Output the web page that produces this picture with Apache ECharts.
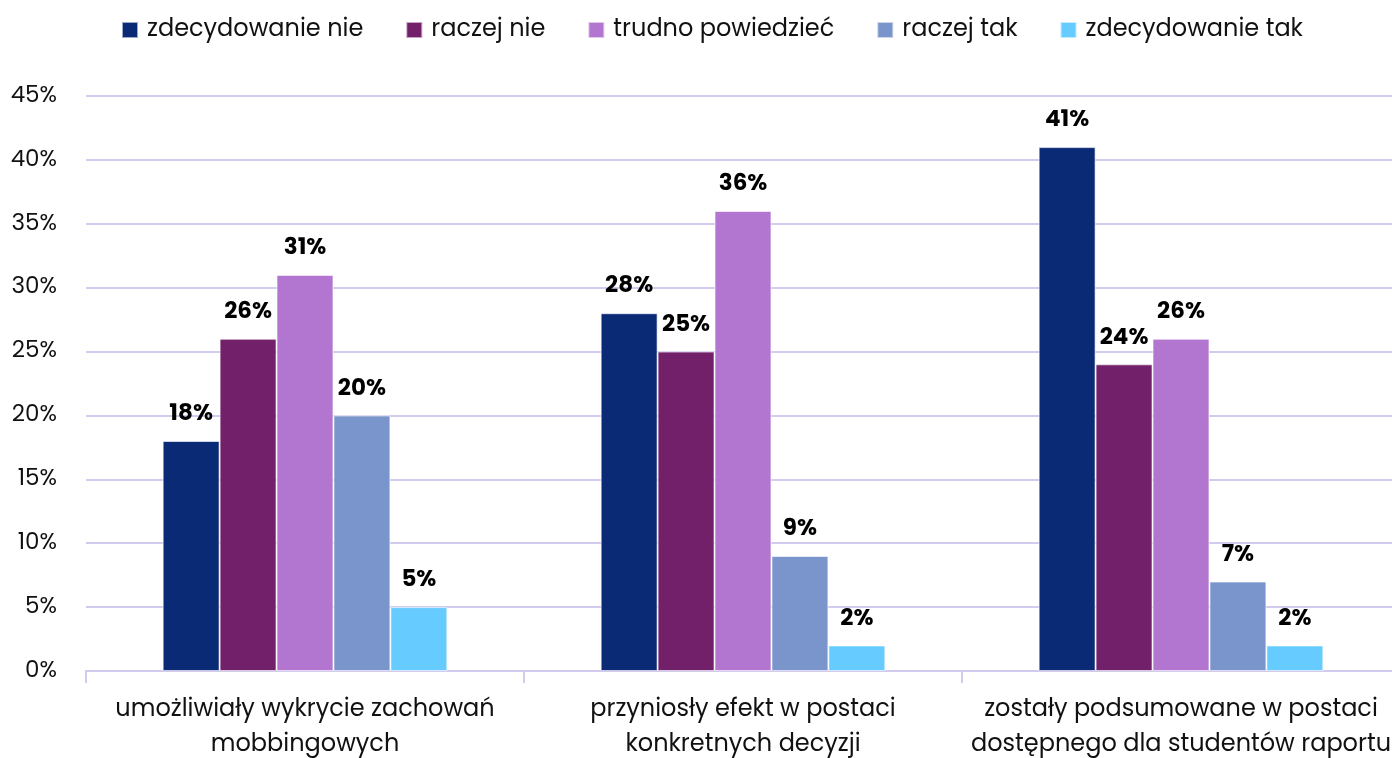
<!DOCTYPE html>
<html>
<head>
<meta charset="utf-8">
<script src="https://cdn.jsdelivr.net/npm/echarts@6/dist/echarts.min.js"></script>
<style>
  html, body { margin: 0; padding: 0; background: #ffffff; }
  #chart { width: 1392px; height: 758px; }
</style>
</head>
<body>
<div id="chart"></div>
<script>
// Categories on the x axis (two-line labels)
const categories = [
  'umożliwiały wykrycie zachowań\nmobbingowych',
  'przyniosły efekt w postaci\nkonkretnych decyzji',
  'zostały podsumowane w postaci\ndostępnego dla studentów raportu'
];

// Answer series (percent values per category)
const seriesNames = ['zdecydowanie nie', 'raczej nie', 'trudno powiedzieć', 'raczej tak', 'zdecydowanie tak'];
const zdecydowanieNie = [18, 28, 41];
const raczejNie = [26, 25, 24];
const trudnoPowiedziec = [31, 36, 26];
const raczejTak = [20, 9, 7];
const zdecydowanieTak = [5, 2, 2];

// Y axis ticks (percent)
const yTicks = [0, 5, 10, 15, 20, 25, 30, 35, 40, 45];

const seriesValues = [zdecydowanieNie, raczejNie, trudnoPowiedziec, raczejTak, zdecydowanieTak];
const seriesColors = ['#0b2a75', '#722069', '#b276d0', '#7a95cb', '#66ccff'];

const FONT = 'Poppins, "Open Sans", sans-serif';

const chart = echarts.init(document.getElementById('chart'), null, { renderer: 'canvas' });

chart.setOption({
  animation: false,
  textStyle: { fontFamily: FONT },
  legend: {
    top: 13,
    left: 116,
    itemWidth: 16,
    itemHeight: 16,
    itemGap: 42,
    icon: 'rect',
    textStyle: { fontFamily: FONT, fontSize: 24, color: '#111111', padding: [0, 0, 0, 4] },
    data: seriesNames
  },
  grid: {
    left: 86,
    top: 96,
    width: 1314,
    height: 575,
    outerBoundsMode: 'none',
    containLabel: false
  },
  xAxis: {
    type: 'category',
    data: categories,
    axisLine: { lineStyle: { color: '#d2cbee', width: 2 } },
    axisTick: { show: true, length: 12, lineStyle: { color: '#d2cbee', width: 2 } },
    axisLabel: {
      interval: 0,
      margin: 21,
      fontFamily: FONT,
      fontSize: 24,
      lineHeight: 35,
      color: '#111111'
    }
  },
  yAxis: {
    type: 'value',
    min: yTicks[0],
    max: yTicks[yTicks.length - 1],
    interval: yTicks[1] - yTicks[0],
    axisLine: { show: false },
    axisTick: { show: false },
    splitLine: { lineStyle: { color: '#d2cbee', width: 2 } },
    axisLabel: {
      formatter: '{value}%',
      margin: 29,
      fontFamily: FONT,
      fontSize: 23,
      color: '#111111'
    }
  },
  series: seriesNames.map((name, i) => ({
    name: name,
    type: 'bar',
    data: seriesValues[i],
    barGap: 0,
    barCategoryGap: '35%',
    itemStyle: {
      color: seriesColors[i],
      borderColor: 'rgba(255,255,255,0.6)',
      borderWidth: 1
    },
    label: {
      show: true,
      position: 'top',
      distance: 15,
      formatter: '{c}%',
      fontFamily: FONT,
      fontSize: 23,
      fontWeight: 'bold',
      color: '#000000'
    }
  }))
});
</script>
</body>
</html>
